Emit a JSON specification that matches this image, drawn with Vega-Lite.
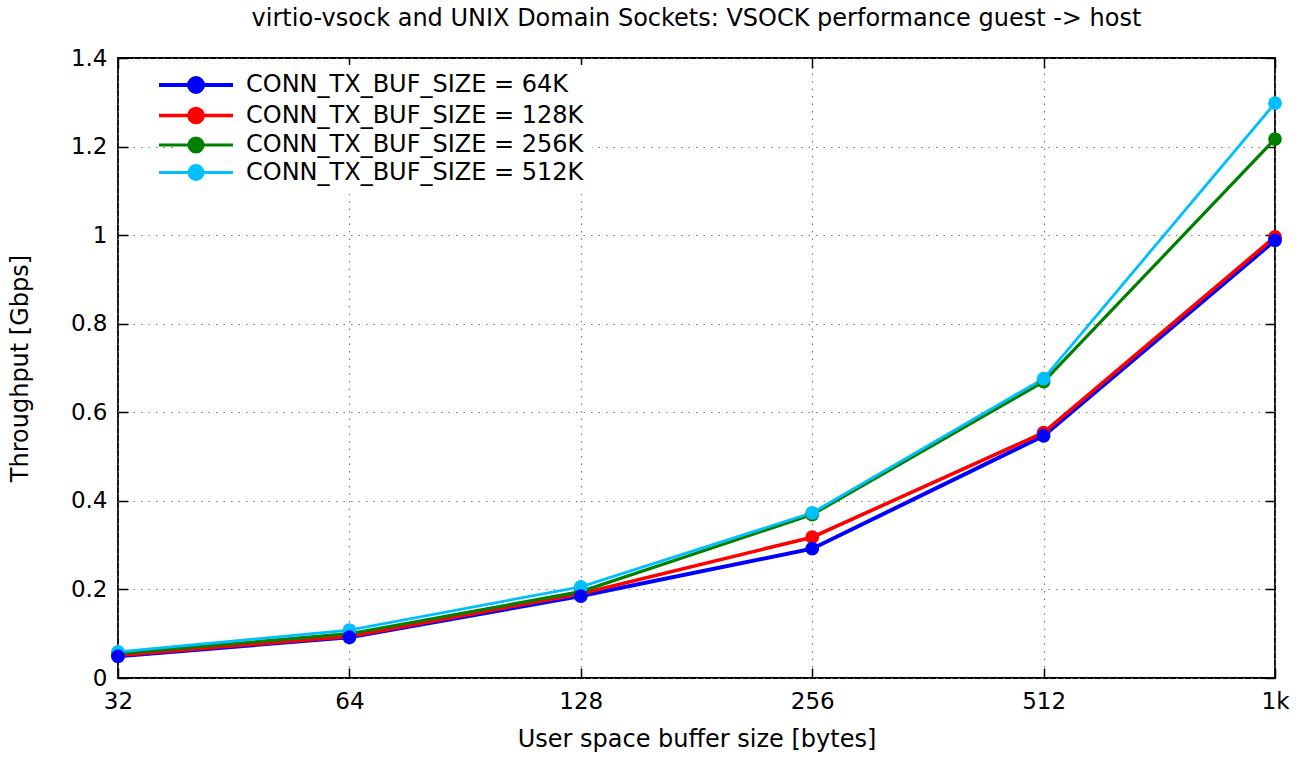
{
  "$schema": "https://vega.github.io/schema/vega-lite/v6.json",
  "autosize": "none",
  "width": 1157,
  "height": 620,
  "padding": {"left": 118, "top": 58, "right": 25, "bottom": 90},
  "background": "white",
  "config": {
    "font": "DejaVu Sans",
    "view": {"stroke": "black", "strokeWidth": 1.8},
    "axis": {"labelFont": "DejaVu Sans", "titleFont": "DejaVu Sans", "labelColor": "black", "titleColor": "black", "titleFontWeight": "normal", "labelFontSize": 23, "titleFontSize": 24}
  },
  "title": {"text": "virtio-vsock and UNIX Domain Sockets: VSOCK performance guest -> host", "fontSize": 24, "fontWeight": "normal", "font": "DejaVu Sans", "color": "black", "offset": 16},
  "data": {"values": [
    {"size": "32", "series": "CONN_TX_BUF_SIZE = 64K", "value": 0.049},
    {"size": "64", "series": "CONN_TX_BUF_SIZE = 64K", "value": 0.092},
    {"size": "128", "series": "CONN_TX_BUF_SIZE = 64K", "value": 0.185},
    {"size": "256", "series": "CONN_TX_BUF_SIZE = 64K", "value": 0.292},
    {"size": "512", "series": "CONN_TX_BUF_SIZE = 64K", "value": 0.547},
    {"size": "1k", "series": "CONN_TX_BUF_SIZE = 64K", "value": 0.988},
    {"size": "32", "series": "CONN_TX_BUF_SIZE = 128K", "value": 0.051},
    {"size": "64", "series": "CONN_TX_BUF_SIZE = 128K", "value": 0.094},
    {"size": "128", "series": "CONN_TX_BUF_SIZE = 128K", "value": 0.19},
    {"size": "256", "series": "CONN_TX_BUF_SIZE = 128K", "value": 0.318},
    {"size": "512", "series": "CONN_TX_BUF_SIZE = 128K", "value": 0.554},
    {"size": "1k", "series": "CONN_TX_BUF_SIZE = 128K", "value": 0.996},
    {"size": "32", "series": "CONN_TX_BUF_SIZE = 256K", "value": 0.055},
    {"size": "64", "series": "CONN_TX_BUF_SIZE = 256K", "value": 0.1},
    {"size": "128", "series": "CONN_TX_BUF_SIZE = 256K", "value": 0.195},
    {"size": "256", "series": "CONN_TX_BUF_SIZE = 256K", "value": 0.369},
    {"size": "512", "series": "CONN_TX_BUF_SIZE = 256K", "value": 0.669},
    {"size": "1k", "series": "CONN_TX_BUF_SIZE = 256K", "value": 1.217},
    {"size": "32", "series": "CONN_TX_BUF_SIZE = 512K", "value": 0.059},
    {"size": "64", "series": "CONN_TX_BUF_SIZE = 512K", "value": 0.108},
    {"size": "128", "series": "CONN_TX_BUF_SIZE = 512K", "value": 0.206},
    {"size": "256", "series": "CONN_TX_BUF_SIZE = 512K", "value": 0.373},
    {"size": "512", "series": "CONN_TX_BUF_SIZE = 512K", "value": 0.676},
    {"size": "1k", "series": "CONN_TX_BUF_SIZE = 512K", "value": 1.298}
  ]},
  "layer": [
    {
      "mark": {"type": "line", "clip": false},
      "encoding": {
        "x": {"field": "size", "type": "ordinal", "sort": ["32", "64", "128", "256", "512", "1k"],
              "scale": {"type": "point", "padding": 0},
              "axis": {"orient": "bottom", "title": "User space buffer size [bytes]", "labelAngle": 0, "tickSize": -10, "tickColor": "black", "tickWidth": 1.5, "domain": false, "labelPadding": 22, "titlePadding": 14, "grid": true, "gridDash": [1.5, 6], "gridColor": "#777", "gridWidth": 1.2}},
        "y": {"field": "value", "type": "quantitative",
              "scale": {"domain": [0, 1.4], "nice": false},
              "axis": {"orient": "left", "title": "Throughput [Gbps]", "values": [0, 0.2, 0.4, 0.6, 0.8, 1, 1.2, 1.4], "format": "~g", "tickSize": -10, "tickColor": "black", "tickWidth": 1.5, "domain": false, "labelPadding": 21, "titlePadding": 38, "grid": true, "gridDash": [1.5, 6], "gridColor": "#777", "gridWidth": 1.2}},
        "color": {"field": "series", "type": "nominal",
                  "scale": {"domain": ["CONN_TX_BUF_SIZE = 64K", "CONN_TX_BUF_SIZE = 128K", "CONN_TX_BUF_SIZE = 256K", "CONN_TX_BUF_SIZE = 512K"], "range": ["#0000ff", "#ff0000", "#008000", "#00bfff"]},
                  "legend": {"title": null, "orient": "none", "legendX": 58, "legendY": 7, "padding": 8,
                             "fillColor": "white",
                             "symbolType": "M-3.7,0H3.7M-0.7,0A0.7,0.7,0,1,1,0.7,0A0.7,0.7,0,1,1,-0.7,0Z",
                             "symbolSize": 400, "symbolStrokeWidth": 3, "symbolOpacity": 1,
                             "labelFont": "DejaVu Sans", "labelFontSize": 24, "labelColor": "black", "labelOffset": 38, "labelLimit": 500, "rowPadding": 0.5,
                             "encode": {"symbols": {"update": {"stroke": {"scale": "color", "field": "value"}, "fill": {"scale": "color", "field": "value"}}}}}},
        "strokeWidth": {"field": "series", "type": "nominal", "legend": null,
                  "scale": {"domain": ["CONN_TX_BUF_SIZE = 64K", "CONN_TX_BUF_SIZE = 128K", "CONN_TX_BUF_SIZE = 256K", "CONN_TX_BUF_SIZE = 512K"], "range": [4, 2.8, 2.8, 2.8]}}
      }
    },
    {
      "mark": {"type": "point", "filled": true, "opacity": 1, "size": 190, "clip": false},
      "encoding": {
        "x": {"field": "size", "type": "ordinal", "sort": ["32", "64", "128", "256", "512", "1k"],
              "axis": {"orient": "top", "title": null, "labels": false, "tickSize": -10, "tickColor": "black", "tickWidth": 1.5, "domain": false, "grid": false}},
        "y": {"field": "value", "type": "quantitative",
              "axis": {"orient": "right", "title": null, "labels": false, "values": [0, 0.2, 0.4, 0.6, 0.8, 1, 1.2, 1.4], "tickSize": -10, "tickColor": "black", "tickWidth": 1.5, "domain": false, "grid": false}},
        "color": {"field": "series", "type": "nominal"},
        "order": {"field": "series", "sort": "ascending"}
      }
    }
  ]
}
